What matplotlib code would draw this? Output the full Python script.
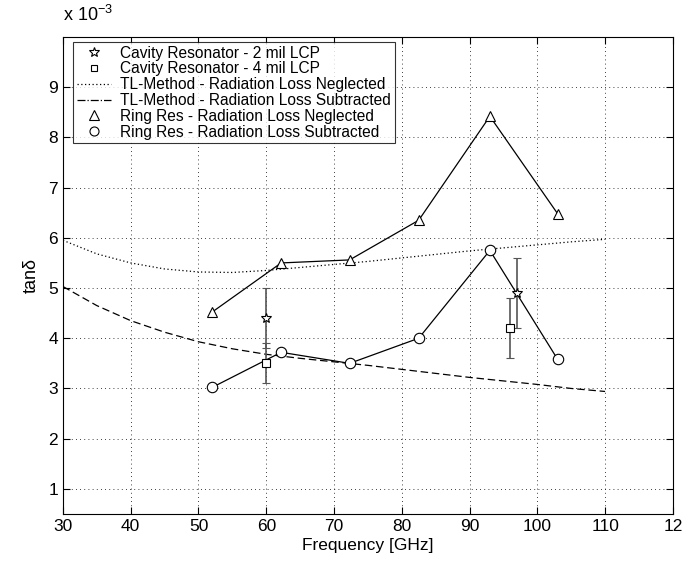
import matplotlib
matplotlib.use("Agg")
import matplotlib.pyplot as plt

plt.rcParams['font.family'] = ['Liberation Sans', 'DejaVu Sans']

# values in units of 1e-3
ring_f = [52, 62.2, 72.3, 82.5, 93, 103]
ring_neglected = [4.52, 5.5, 5.56, 6.35, 8.42, 6.48]
ring_subtracted = [3.02, 3.72, 3.5, 4.0, 5.75, 3.58]

cav2_f = [60, 97]
cav2_tan = [4.4, 4.9]
cav2_err = [0.6, 0.7]

cav4_f = [60, 96]
cav4_tan = [3.5, 4.2]
cav4_err = [0.4, 0.6]

tl_f = [30, 35, 40, 45, 50, 55, 60, 65, 70, 75, 80, 85, 90, 95, 100, 105, 110]
tl_neglected = [5.95, 5.68, 5.5, 5.38, 5.32, 5.31, 5.35, 5.41, 5.47, 5.53, 5.6, 5.67,
                5.74, 5.8, 5.86, 5.92, 5.97]
tl_subtracted = [5.03, 4.65, 4.35, 4.12, 3.93, 3.79, 3.68, 3.6, 3.53, 3.46, 3.38, 3.3,
                 3.22, 3.15, 3.08, 3.0, 2.94]

fig = plt.figure(figsize=(6.86, 5.64), dpi=100)
ax = fig.add_axes([0.0918, 0.0887, 0.889, 0.8457])

ax.plot(tl_f, tl_neglected, color='k', lw=0.9, ls=(0, (1, 2)))
ax.plot(tl_f, tl_subtracted, color='k', lw=0.9, ls=(0, (6, 3)))

ax.plot(ring_f, ring_neglected, 'k-', lw=0.9, marker='^', ms=7.5, mfc='white', mec='k', mew=0.8)
ax.plot(ring_f, ring_subtracted, 'k-', lw=0.9, marker='o', ms=7.5, mfc='white', mec='k', mew=0.8)

ax.errorbar(cav2_f, cav2_tan, yerr=cav2_err, fmt='*', color='k', ecolor='#555555',
            ms=7, mfc='white', mew=0.8, elinewidth=1.2, capsize=3)
ax.errorbar(cav4_f, cav4_tan, yerr=cav4_err, fmt='s', color='k', ecolor='#555555',
            ms=6, mfc='white', mew=0.8, elinewidth=1.2, capsize=3)

# legend proxies
h1, = ax.plot([], [], ls='none', marker='*', ms=7, mfc='white', mec='k', mew=0.8)
h2, = ax.plot([], [], ls='none', marker='s', ms=5, mfc='white', mec='k', mew=0.8)
h3, = ax.plot([], [], color='k', lw=0.9, ls=(0, (1, 2)))
h4, = ax.plot([], [], color='k', lw=0.9, ls='-.')
h5, = ax.plot([], [], ls='none', marker='^', ms=6.5, mfc='white', mec='k', mew=0.8)
h6, = ax.plot([], [], ls='none', marker='o', ms=6.5, mfc='white', mec='k', mew=0.8)
leg = ax.legend([h1, h2, h3, h4, h5, h6],
                ['Cavity Resonator - 2 mil LCP', 'Cavity Resonator - 4 mil LCP',
                 'TL-Method - Radiation Loss Neglected',
                 'TL-Method - Radiation Loss Subtracted',
                 'Ring Res - Radiation Loss Neglected',
                 'Ring Res - Radiation Loss Subtracted'],
                loc='upper left', bbox_to_anchor=(0.016, 0.99), fontsize=11.2,
                frameon=True, fancybox=False, edgecolor='k', borderpad=0.25,
                labelspacing=0.05, handlelength=2.2, handletextpad=0.6,
                borderaxespad=0)
leg.get_frame().set_linewidth(0.8)

ax.set_xlim(30, 120)
ax.set_ylim(0.5, 10)
ax.set_xticks(range(30, 121, 10))
ax.set_yticks(range(1, 10))
ax.set_xticklabels([str(v) for v in range(30, 120, 10)] + ['12'])
ax.grid(True, color='k', ls=(0, (1, 4)), lw=0.6)
ax.tick_params(direction='in', top=True, right=True, labelsize=12.5, length=5, width=0.8)
for s in ax.spines.values():
    s.set_linewidth(0.8)

ax.set_xlabel('Frequency [GHz]', fontsize=12.5, labelpad=3)
ax.set_ylabel('tanδ', fontsize=13, labelpad=6)
fig.text(0.092, 0.955, r'x 10$^{\mathregular{-3}}$', fontsize=13, ha='left', va='bottom')

fig.savefig('out.png', dpi=100)
